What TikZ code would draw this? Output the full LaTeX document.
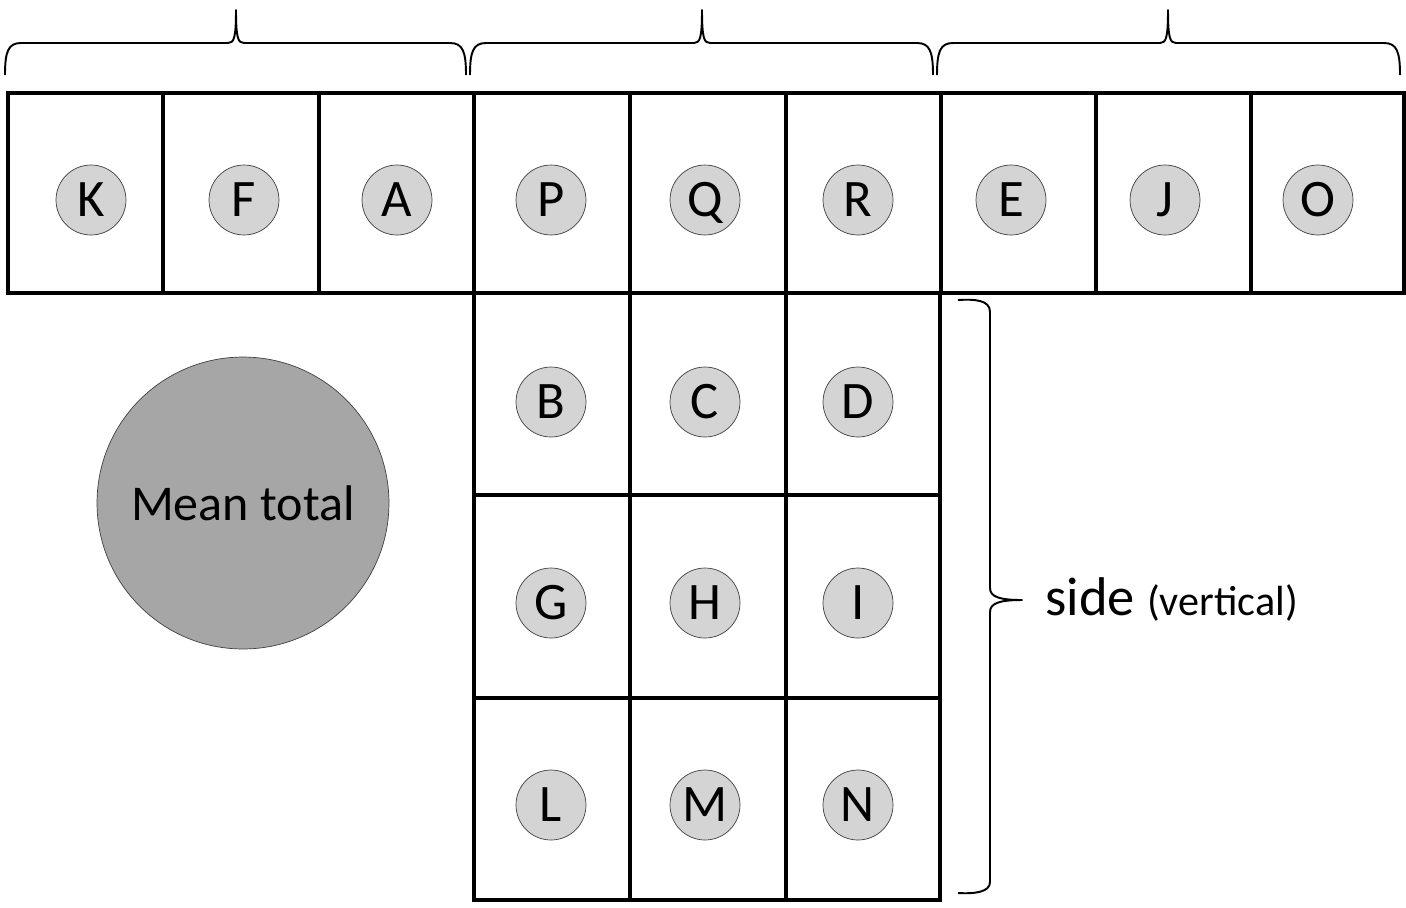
\documentclass[tikz,border=0pt]{standalone}
\usepackage{fontspec}
\setmainfont{Carlito}
\definecolor{tokengray}{HTML}{D4D4D4}
\definecolor{meangray}{HTML}{A6A6A6}
\begin{document}
\begin{tikzpicture}[x=0.02cm,y=-0.02cm]
  \tikzset{
      cell/.style={draw=black,line width=2pt},
      token/.style={circle,draw=black!75,thin,fill=tokengray,minimum size=1.4cm,inner sep=0pt,
                    text height=19.3pt,text depth=0pt,font=\fontsize{30}{34}\selectfont},
      brace/.style={draw=black,line width=1.1pt,line join=round},
  }
  \useasboundingbox (0,0) rectangle (1406,907);
  % top row of cells
  \draw[cell](8,93) rectangle (1404,293);
  \foreach \x in {163,319,474,630,786,941,1096,1251}
      \draw[cell](\x,93)--(\x,293);
  % column below
  \draw[cell](474,293) rectangle (940,900);
  \foreach \y in {495,698}
      \draw[cell](474,\y)--(940,\y);
  \foreach \x in {630,786}
      \draw[cell](\x,293)--(\x,900);
  % tokens
  \foreach \t/\x/\y in {K/91/200,F/244/200,A/397/200,P/551/200,Q/705/200,R/858/200,
                        E/1011/200,J/1165/200,O/1318/200,
                        B/551/402,C/705/402,D/858/402,
                        G/551/603,H/705/603,I/858/603,
                        L/551/805,M/705/805,N/858/805}
      \node[token](\t) at (\x,\y) {\t};
  \node[circle,draw=black!75,thin,fill=meangray,minimum size=5.84cm,inner sep=0pt,
        font=\fontsize{28.5}{32}\selectfont](mean) at (243,503) {Mean total};
  % braces over the three groups
  \foreach \a/\m/\b in {5/236/466,470/702/933,937/1168/1400}
      \draw[brace](\a,75) .. controls (\a,52) and (\a+3,43) .. (\a+16,43) -- (\m-8,43)
          .. controls (\m-2,43) and (\m,38) .. (\m,10) .. controls (\m,38) and (\m+2,43) .. (\m+8,43)
          -- (\b-16,43) .. controls (\b-3,43) and (\b,52) .. (\b,75);
  % side brace
  \draw[brace](958,300) .. controls (975,299) and (990,300) .. (990,312) -- (990,588)
      .. controls (990,597) and (1000,600) .. (1022,600) .. controls (1000,600) and (990,603) .. (990,612)
      -- (990,882) .. controls (990,892) and (975,894) .. (958,893);
  \node[anchor=base west,inner sep=0pt](side) at (1045,615)
      {\fontsize{31}{36}\selectfont side {\fontsize{24}{28}\selectfont(vertical)}};
\end{tikzpicture}
\end{document}
